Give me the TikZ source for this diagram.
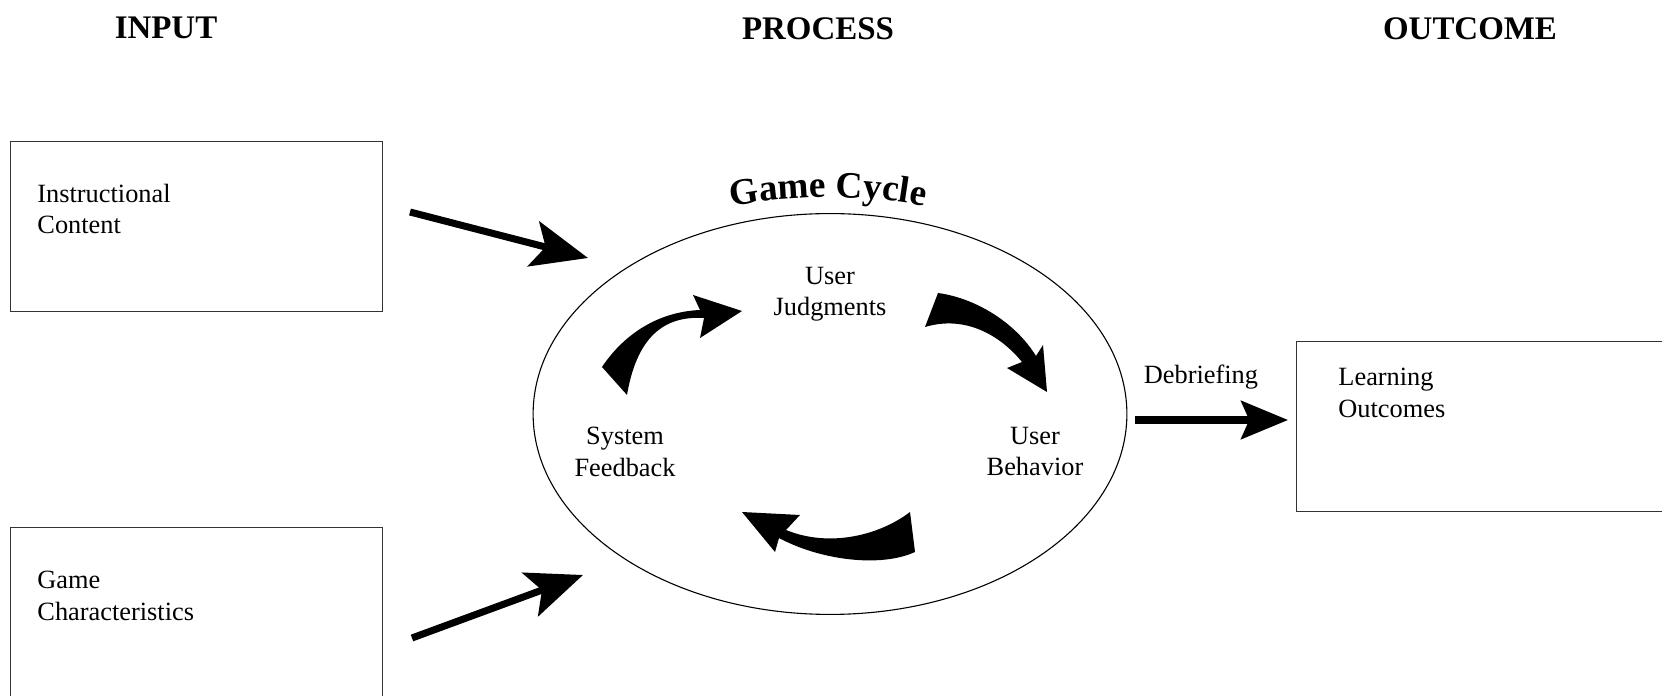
\documentclass[tikz,border=0pt]{standalone}
\usepackage{fontspec}
\setmainfont{Liberation Serif}
\usetikzlibrary{arrows.meta,shapes.geometric,decorations.text}

\definecolor{CycleInk}{HTML}{000000}
\definecolor{CycleRule}{HTML}{333333}
\newcommand\loopfont{\fontsize{17}{20}\selectfont\bfseries}

\tikzset{
  heading/.style={font=\fontsize{15}{18}\selectfont\bfseries,inner sep=0pt,anchor=north},
  boxtext/.style={font=\fontsize{12}{14.2}\selectfont,align=left,inner sep=0pt,anchor=north west},
  looptext/.style={font=\fontsize{12}{14.2}\selectfont,align=center,inner sep=0pt,anchor=north},
  framebox/.style={draw=CycleRule,line width=0.6pt,anchor=north west,inner sep=0pt},
  fatarrow/.style={CycleInk,line width=3.2pt,-{Stealth[length=0.9cm,width=0.74cm,inset=0.2cm]}}
}

\begin{document}
\begin{tikzpicture}[x=0.016cm,y=-0.016cm]
  \useasboundingbox (0,0) rectangle (1662,696);

  % column heads
  \node[heading] (input) at (166,17) {INPUT};
  \node[heading] (process) at (818,17) {PROCESS};
  \node[heading] (outcome) at (1470,17) {OUTCOME};

  % input and outcome boxes
  \node[framebox,minimum width=5.952cm,minimum height=2.72cm] (content) at (10,141) {};
  \node[framebox,minimum width=5.952cm,minimum height=3.2cm] (traits) at (10,527) {};
  \node[framebox,minimum width=6.4cm,minimum height=2.72cm] (learning) at (1296,341) {};
  \node[boxtext] (contenttext) at (37,184) {Instructional\\Content};
  \node[boxtext] (traitstext) at (37,571) {Game\\Characteristics};
  \node[boxtext] (learningtext) at (1338,368) {Learning\\Outcomes};

  % the game cycle
  \node[draw=CycleInk,line width=0.5pt,ellipse,minimum width=9.504cm,
    minimum height=6.416cm,inner sep=0pt] (gameloop) at (830,414) {};
  \path[decorate,decoration={text along path,text={|\loopfont|Game Cycle},text align=center}]
    (715,210) .. controls (785,193) and (871,193) .. (941,210);
  \node[looptext] (judge) at (830,267) {User\\Judgments};
  \node[looptext] (feedback) at (625,427) {System\\Feedback};
  \node[looptext] (behave) at (1035,427) {User\\Behavior};

  \fill[CycleInk] (602,367) .. controls (622,337) and (655,312) .. (700,310)
    -- (693,295) -- (742,311) -- (700,338) -- (704,318)
    .. controls (670,316) and (638,330) .. (627,395) -- cycle;
  \fill[CycleInk] (938,293) .. controls (975,298) and (1015,322) .. (1036,356)
    -- (1043,345) -- (1047,392) -- (1007,368) -- (1022,362)
    .. controls (1000,335) and (965,315) .. (925,327) -- cycle;
  \fill[CycleInk] (910,512) .. controls (880,535) and (830,548) .. (786,530)
    -- (800,515) -- (742,512) -- (775,552) -- (779,538)
    .. controls (820,560) and (880,568) .. (915,552) -- cycle;

  % inputs into the cycle, debriefing out
  \coordinate (contentout) at (410,212);
  \coordinate (loopin1) at (588,258);
  \coordinate (traitsout) at (412,638);
  \coordinate (loopin2) at (583,575);
  \coordinate (loopout) at (1135,420);
  \coordinate (learningin) at (1288,420);
  \draw[fatarrow] (contentout) -- (loopin1);
  \draw[fatarrow] (traitsout) -- (loopin2);
  \draw[fatarrow,-{Stealth[length=0.75cm,width=0.61cm,inset=0.13cm]}] (loopout) -- (learningin);
  \node[font=\fontsize{12}{14.2}\selectfont,inner sep=0pt,anchor=north] (debrief) at (1201,365) {Debriefing};
\end{tikzpicture}
\end{document}
